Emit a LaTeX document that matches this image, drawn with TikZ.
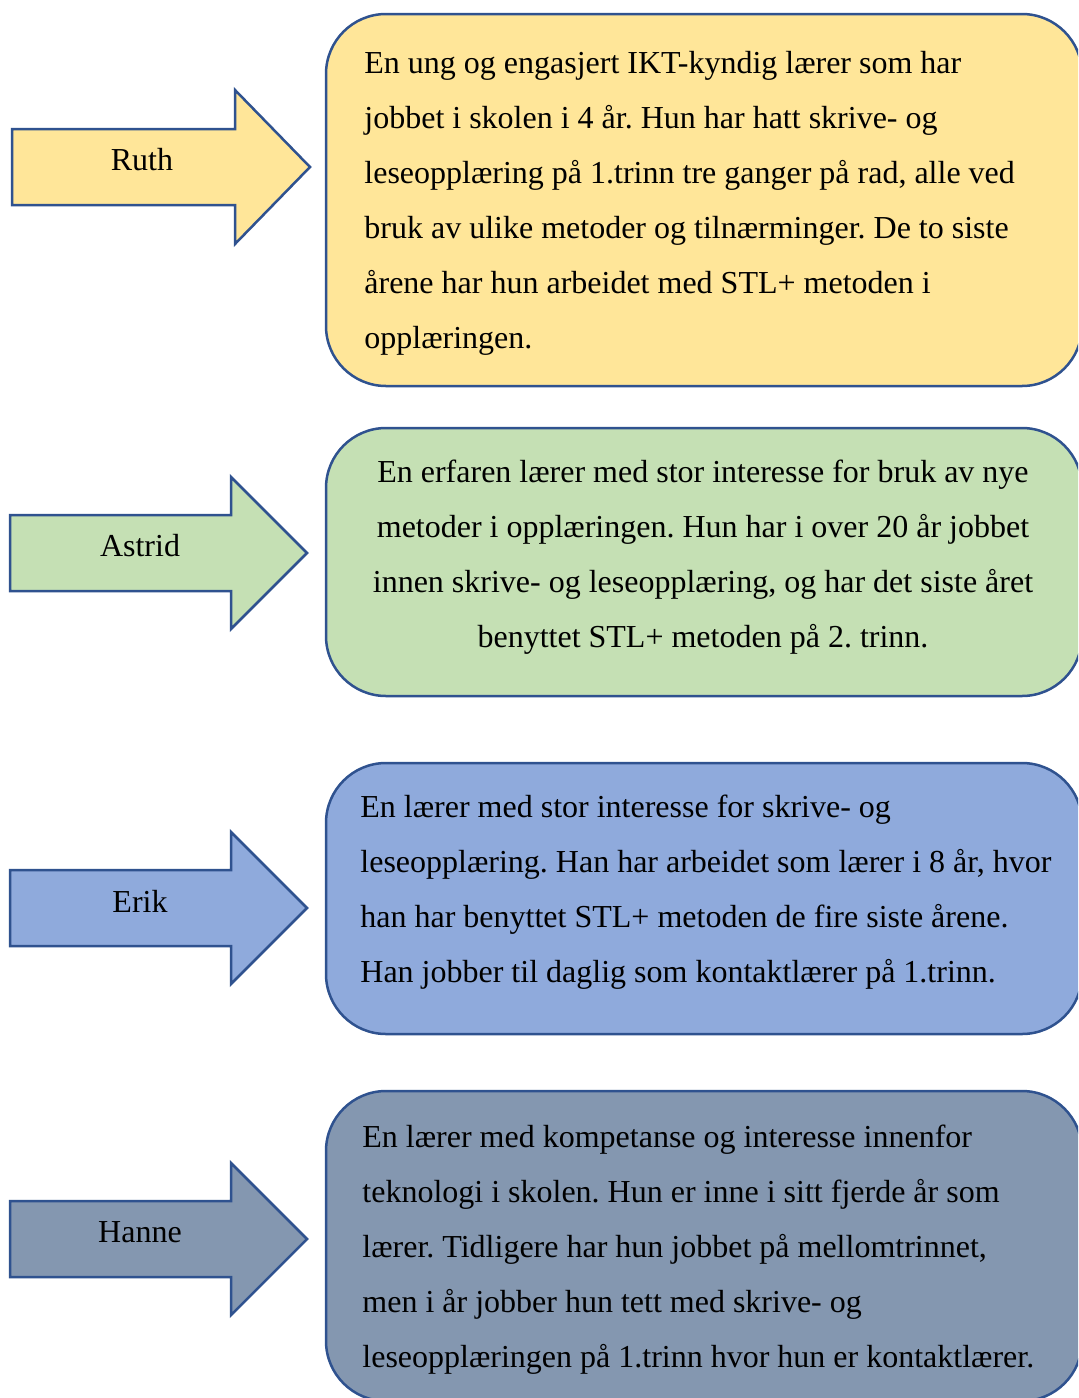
\documentclass[tikz,border=0pt]{standalone}
\usepackage{fontspec}
\setmainfont{Liberation Serif}
\definecolor{edgeblue}{HTML}{2F528F}
\definecolor{fillyellow}{HTML}{FFE699}
\definecolor{fillgreen}{HTML}{C5E0B4}
\definecolor{fillblue}{HTML}{8FAADC}
\definecolor{fillgray}{HTML}{8497B0}
\newcommand\leftlines[1]{\vtop{\frenchspacing\baselineskip=27.5pt\lineskip=0pt\lineskiplimit=-100pt\halign{##\hfil\cr#1\crcr}}}
\newcommand\centerlines[1]{\vtop{\frenchspacing\baselineskip=27.5pt\lineskip=0pt\lineskiplimit=-100pt\halign{\hfil##\hfil\cr#1\crcr}}}
\tikzset{
  txt/.style={inner sep=0pt, font=\fontsize{16}{27.5}\selectfont},
  infobox/.style={draw=edgeblue, line width=1.25pt, rounded corners=30pt, inner sep=0pt,
    minimum width=378pt},
  bigarrow/.style={draw=edgeblue, line width=1.25pt, line join=miter},
  lbl/.style={inner sep=0pt, font=\fontsize{16}{19}\selectfont},
}
\begin{document}
\begin{tikzpicture}[x=0.5pt,y=-0.5pt]
\clip (0,0) rectangle (1078,1398);
\fill[white] (0,0) rectangle (1078,1398);

% boxes
\node[infobox, fill=fillyellow, minimum height=186pt] (b1) at (704,200) {};
\node[infobox, fill=fillgreen, minimum height=134pt] (b2) at (704,562) {};
\node[infobox, fill=fillblue, minimum height=135.5pt] (b3) at (704,898.5) {};
\node[infobox, fill=fillgray, minimum height=155pt] (b4) at (704,1246) {};

% arrows
\draw[bigarrow, fill=fillyellow] (12,129) -- (235,129) -- (235,90) -- (310,167) -- (235,244) -- (235,205) -- (12,205) -- cycle;
\draw[bigarrow, fill=fillgreen] (10,515) -- (231,515) -- (231,477) -- (307,553) -- (231,629) -- (231,591) -- (10,591) -- cycle;
\draw[bigarrow, fill=fillblue] (10,870) -- (231,870) -- (231,832) -- (307,908) -- (231,984) -- (231,946) -- (10,946) -- cycle;
\draw[bigarrow, fill=fillgray] (10,1201) -- (231,1201) -- (231,1163) -- (307,1239) -- (231,1315) -- (231,1277) -- (10,1277) -- cycle;

\node[lbl] (ruth) at (142,160) {Ruth};
\node[lbl] (astrid) at (140,546) {Astrid};
\node[lbl] (erik) at (140,901) {Erik};
\node[lbl] (hanne) at (140,1232) {Hanne};

% texts
\node[txt, anchor=base west] (t1) at (364,73) {\leftlines{%
En ung og engasjert IKT-kyndig lærer som har\cr
jobbet i skolen i 4 år. Hun har hatt skrive- og\cr
leseopplæring på 1.trinn tre ganger på rad, alle ved\cr
bruk av ulike metoder og tilnærminger. De to siste\cr
årene har hun arbeidet med STL+ metoden i\cr
opplæringen.}};

\node[txt, anchor=base] (t2) at (703,482) {\centerlines{%
En erfaren lærer med stor interesse for bruk av nye\cr
metoder i opplæringen. Hun har i over 20 år jobbet\cr
innen skrive- og leseopplæring, og har det siste året\cr
benyttet STL+ metoden på 2. trinn.}};

\node[txt, anchor=base west] (t3) at (360,817) {\leftlines{%
En lærer med stor interesse for skrive- og\cr
leseopplæring. Han har arbeidet som lærer i 8 år, hvor\cr
han har benyttet STL+ metoden de fire siste årene.\cr
Han jobber til daglig som kontaktlærer på 1.trinn.}};

\node[txt, anchor=base west] (t4) at (362,1147) {\leftlines{%
En lærer med kompetanse og interesse innenfor\cr
teknologi i skolen. Hun er inne i sitt fjerde år som\cr
lærer. Tidligere har hun jobbet på mellomtrinnet,\cr
men i år jobber hun tett med skrive- og\cr
leseopplæringen på 1.trinn hvor hun er kontaktlærer.}};
\end{tikzpicture}
\end{document}
